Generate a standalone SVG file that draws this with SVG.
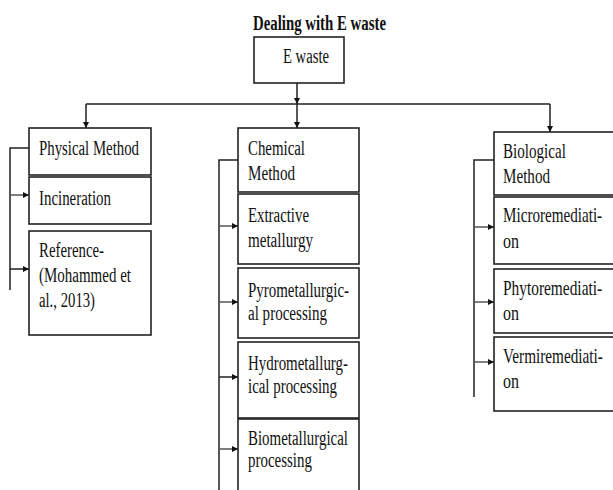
<svg xmlns="http://www.w3.org/2000/svg" width="613" height="490" viewBox="0 0 613 490">
<style>
.box{fill:#fff;stroke:#222;stroke-width:1.6}
.t{font-family:"Liberation Serif","Times New Roman",serif;font-size:20px;fill:#111}
.title{font-family:"Liberation Serif","Times New Roman",serif;font-size:20px;font-weight:bold;fill:#111}
.c{fill:none;stroke:#222;stroke-width:1.5}
.g{fill:none;stroke:#555;stroke-width:1.5}
</style>
<defs>
<marker id="ah" viewBox="0 0 10 10" refX="10" refY="5" markerWidth="6" markerHeight="6" markerUnits="userSpaceOnUse" orient="auto">
<path d="M0 0 L10 5 L0 10 Z" fill="#111"/>
</marker>
</defs>
<rect width="613" height="490" fill="#fff"/>
<text class="title" x="253" y="30" textLength="133" lengthAdjust="spacingAndGlyphs">Dealing with E waste</text>

<g id="connectors">
<path class="c" d="M297 83 V104" marker-end="url(#ah)"/>
<path class="c" d="M86 104 H550"/>
<path class="c" d="M86 104 V128" marker-end="url(#ah)"/>
<path class="c" d="M297 104 V128" marker-end="url(#ah)"/>
<path class="c" d="M550 104 V132" marker-end="url(#ah)"/>
<path class="c" d="M29 148 H10 V290"/>
<path class="g" d="M10 195 H29" marker-end="url(#ah)"/>
<path class="c" d="M10 269 H29" marker-end="url(#ah)"/>
<path class="c" d="M238 160 H219 V490"/>
<path class="g" d="M219 226 H238" marker-end="url(#ah)"/>
<path class="g" d="M219 302 H238" marker-end="url(#ah)"/>
<path class="c" d="M219 377 H238" marker-end="url(#ah)"/>
<path class="g" d="M219 449 H238" marker-end="url(#ah)"/>
<path class="c" d="M494 160 H474 V397"/>
<path class="g" d="M474 227 H494" marker-end="url(#ah)"/>
<path class="g" d="M474 302 H494" marker-end="url(#ah)"/>
<path class="g" d="M474 362 H494" marker-end="url(#ah)"/>
</g>

<g id="ewaste">
<rect class="box" x="254" y="37" width="90" height="46"/>
<text class="t" x="283" y="63" textLength="46" lengthAdjust="spacingAndGlyphs">E waste</text>
</g>

<g id="physical">
<rect class="box" x="29" y="128" width="122" height="47"/>
<text class="t" x="39" y="155" textLength="100" lengthAdjust="spacingAndGlyphs">Physical Method</text>
</g>
<g id="incineration">
<rect class="box" x="29" y="177" width="122" height="47"/>
<text class="t" x="39" y="205" textLength="72" lengthAdjust="spacingAndGlyphs">Incineration</text>
</g>
<g id="reference">
<rect class="box" x="29" y="231" width="122" height="104"/>
<text class="t" x="39" y="257" textLength="65" lengthAdjust="spacingAndGlyphs">Reference-</text>
<text class="t" x="39" y="282" textLength="92" lengthAdjust="spacingAndGlyphs">(Mohammed et</text>
<text class="t" x="39" y="307" textLength="56" lengthAdjust="spacingAndGlyphs">al., 2013)</text>
</g>

<g id="chemical">
<rect class="box" x="238" y="128" width="121" height="64"/>
<text class="t" x="248" y="155" textLength="57" lengthAdjust="spacingAndGlyphs">Chemical</text>
<text class="t" x="248" y="180" textLength="47" lengthAdjust="spacingAndGlyphs">Method</text>
</g>
<g id="extractive">
<rect class="box" x="238" y="194" width="121" height="70"/>
<text class="t" x="248" y="222" textLength="61" lengthAdjust="spacingAndGlyphs">Extractive</text>
<text class="t" x="248" y="247" textLength="65" lengthAdjust="spacingAndGlyphs">metallurgy</text>
</g>
<g id="pyro">
<rect class="box" x="238" y="268" width="121" height="70"/>
<text class="t" x="248" y="297" textLength="101" lengthAdjust="spacingAndGlyphs">Pyrometallurgic-</text>
<text class="t" x="248" y="320" textLength="79" lengthAdjust="spacingAndGlyphs">al processing</text>
</g>
<g id="hydro">
<rect class="box" x="238" y="342" width="121" height="76"/>
<text class="t" x="248" y="370" textLength="100" lengthAdjust="spacingAndGlyphs">Hydrometallurg-</text>
<text class="t" x="248" y="393" textLength="89" lengthAdjust="spacingAndGlyphs">ical processing</text>
</g>
<g id="biometal">
<rect class="box" x="238" y="419" width="121" height="90"/>
<text class="t" x="248" y="445" textLength="100" lengthAdjust="spacingAndGlyphs">Biometallurgical</text>
<text class="t" x="248" y="467" textLength="64" lengthAdjust="spacingAndGlyphs">processing</text>
</g>

<g id="biological">
<rect class="box" x="494" y="132" width="125" height="63"/>
<text class="t" transform="translate(503,158) scale(0.74,1)" textLength="85" lengthAdjust="spacingAndGlyphs">Biological</text>
<text class="t" transform="translate(503,183) scale(0.74,1)" textLength="63.5" lengthAdjust="spacingAndGlyphs">Method</text>
</g>
<g id="micro">
<rect class="box" x="494" y="197" width="125" height="67"/>
<text class="t" transform="translate(503,222) scale(0.74,1)" textLength="134" lengthAdjust="spacingAndGlyphs">Microremediati-</text>
<text class="t" transform="translate(503,248) scale(0.74,1)" textLength="21.6" lengthAdjust="spacingAndGlyphs">on</text>
</g>
<g id="phyto">
<rect class="box" x="494" y="269" width="125" height="64"/>
<text class="t" transform="translate(503,295) scale(0.74,1)" textLength="134" lengthAdjust="spacingAndGlyphs">Phytoremediati-</text>
<text class="t" transform="translate(503,320) scale(0.74,1)" textLength="21.6" lengthAdjust="spacingAndGlyphs">on</text>
</g>
<g id="vermi">
<rect class="box" x="494" y="337" width="125" height="74"/>
<text class="t" transform="translate(503,363) scale(0.74,1)" textLength="135" lengthAdjust="spacingAndGlyphs">Vermiremediati-</text>
<text class="t" transform="translate(503,388) scale(0.74,1)" textLength="21.6" lengthAdjust="spacingAndGlyphs">on</text>
</g>
</svg>
